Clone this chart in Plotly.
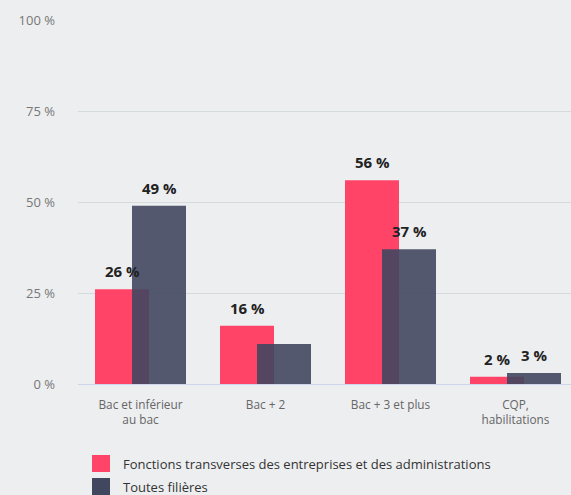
import plotly.graph_objects as go

categories = ["Bac et inférieur<br>au bac", "Bac + 2", "Bac + 3 et plus", "CQP,<br>habilitations"]
series_names = ["Fonctions transverses des entreprises et des administrations", "Toutes filières"]
fonctions = [26, 16, 56, 2]
toutes = [49, 11, 37, 3]
fonctions_labels = ["26 %", "16 %", "56 %", "2 %"]
toutes_labels = ["49 %", "", "37 %", "3 %"]
y_ticks = [0, 25, 50, 75, 100]
y_tick_labels = ["0 %", "25 %", "50 %", "75 %", "100 %"]

RED = "#ff4468"
NAVY = "#41475f"
BG = "#edeef0"
FONT = "Open Sans"

W, H = 571, 495
L, R, T, B = 78, 0, 20, 111
pw = W - L - R
ph = H - T - B
BAND = 125  # px per category

def px_x(x):
    return (x - L) / pw

def px_y(y):
    return (H - B - y) / ph

fig = go.Figure()
fig.add_trace(go.Bar(
    x=categories, y=fonctions, name=series_names[0],
    marker=dict(color=RED, line=dict(width=0)),
    width=0.432, offset=-0.364,
    showlegend=False, hoverinfo="skip",
))
fig.add_trace(go.Bar(
    x=categories, y=toutes, name=series_names[1],
    marker=dict(color=NAVY, opacity=0.9, line=dict(width=0)),
    width=0.432, offset=-0.068,
    showlegend=False, hoverinfo="skip",
))

# data labels above bars
for vals, labels, shift in [(fonctions, fonctions_labels, -18.5), (toutes, toutes_labels, 18.5)]:
    for cat, v, lab in zip(categories, vals, labels):
        if not lab:
            continue
        fig.add_annotation(x=cat, y=v, text=lab, showarrow=False,
                           xshift=shift, yshift=6, yanchor="bottom",
                           font=dict(family=FONT, size=15, color="#222222", weight="bold"))

# manual legend
colors = [RED, NAVY]
for i, (name, c) in enumerate(zip(series_names, colors)):
    top = 455 + i * 23
    fig.add_shape(type="rect", xref="paper", yref="paper",
                  x0=px_x(92), x1=px_x(110), y0=px_y(top + 17), y1=px_y(top),
                  fillcolor=c, line=dict(width=0))
    fig.add_annotation(xref="paper", yref="paper", x=px_x(121), y=px_y(top + 9),
                       text=name, showarrow=False, xanchor="left", yanchor="middle",
                       font=dict(family=FONT, size=13, color="#333333"))

fig.update_layout(
    width=W, height=H,
    margin=dict(l=L, r=R, t=T, b=B),
    paper_bgcolor=BG, plot_bgcolor=BG,
    barmode="overlay",
    font=dict(family=FONT),
    xaxis=dict(
        range=[-0.5, -0.5 + pw / BAND],
        showgrid=False, showline=False, ticks="",
        tickfont=dict(family=FONT, size=11.8, color="#666666"),
        ticklabelstandoff=12,
        zeroline=False,
    ),
    yaxis=dict(
        range=[0, 100], tickmode="array", tickvals=y_ticks, ticktext=y_tick_labels,
        showgrid=True, gridcolor="#d3dbdf", gridwidth=1,
        zeroline=True, zerolinecolor="#ccd6eb", zerolinewidth=1,
        tickfont=dict(family=FONT, size=13, color="#777777"),
        ticklabelstandoff=22,
        showline=False, ticks="",
    ),
)

fig.write_html("out.html", config={"displayModeBar": False, "staticPlot": True},
               post_script="document.body.style.margin='0';document.body.style.background='%s';" % BG)
